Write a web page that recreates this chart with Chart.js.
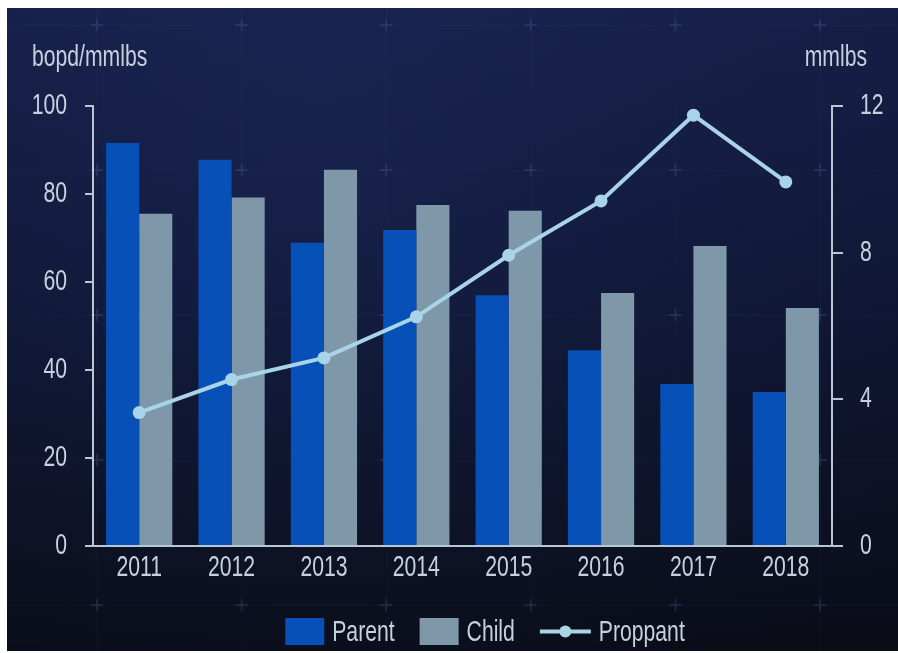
<!DOCTYPE html>
<html><head><meta charset="utf-8">
<script src="https://cdn.jsdelivr.net/npm/chart.js@4.4.1/dist/chart.umd.min.js"></script>
<style>
html,body{margin:0;padding:0;background:#fff;overflow:hidden;}
#wrap{position:absolute;left:7px;top:8px;width:891px;height:643px;}
</style></head><body>
<div id="wrap"><canvas id="c" width="891" height="643"></canvas></div>
<script>
const categories = ['2011','2012','2013','2014','2015','2016','2017','2018'];
const parentValues = [91.6, 87.8, 68.9, 71.8, 57.0, 44.5, 36.8, 35.0];
const childValues = [75.5, 79.2, 85.5, 77.5, 76.2, 57.5, 68.2, 54.1];
const proppantValues = [3.64, 4.54, 5.13, 6.25, 7.93, 9.41, 11.75, 9.93];
const leftTicks = [0, 20, 40, 60, 80, 100];
const rightTicks = [0, 4, 8, 12];
const seriesNames = ['Parent', 'Child', 'Proppant'];
const leftUnit = 'bopd/mmlbs';
const rightUnit = 'mmlbs';

const FAMILY = "'Liberation Sans', Arial, sans-serif";
const FSIZE = 29;
const SX = 0.73; // horizontal condensing of all text, like the narrow face in the original
const textColor = '#c6d1de';
const axisColor = '#b9c6d3';
const parentColor = '#0650b8';
const childColor = '#7e98a9';
const lineColor = '#a9d3e7';

const canvas = document.getElementById('c');
const ctx2d = canvas.getContext('2d');
const nativeFill = ctx2d.fillText.bind(ctx2d);
ctx2d.fillText = function (t, x, y, mw) {
  ctx2d.save();
  ctx2d.translate(x, y);
  ctx2d.scale(SX, 1);
  if (mw !== undefined && mw !== null) nativeFill(t, 0, 0, mw / SX); else nativeFill(t, 0, 0);
  ctx2d.restore();
};

const bgPlugin = {
  id: 'bg',
  beforeDraw(chart) {
    const {ctx, width, height} = chart;
    ctx.save();
    const g = ctx.createLinearGradient(0, 0, 0, height);
    g.addColorStop(0, '#182350');
    g.addColorStop(0.45, '#121a3c');
    g.addColorStop(1, '#0b0e1a');
    ctx.fillStyle = g;
    ctx.fillRect(0, 0, width, height);
    const rg = ctx.createRadialGradient(width*0.35, height*0.25, 50, width*0.35, height*0.25, width*0.8);
    rg.addColorStop(0, 'rgba(30,45,95,0.2)');
    rg.addColorStop(1, 'rgba(0,0,0,0.15)');
    ctx.fillStyle = rg;
    ctx.fillRect(0, 0, width, height);
    ctx.strokeStyle = 'rgba(120,135,200,0.05)';
    ctx.lineWidth = 1;
    for (let x = 90; x < width; x += 144.6) {
      ctx.beginPath(); ctx.moveTo(x + 0.5, 0); ctx.lineTo(x + 0.5, height); ctx.stroke();
    }
    for (let y = 17; y < height; y += 145) {
      ctx.beginPath(); ctx.moveTo(0, y + 0.5); ctx.lineTo(width, y + 0.5); ctx.stroke();
    }
    ctx.strokeStyle = 'rgba(130,145,215,0.16)';
    ctx.lineWidth = 2;
    for (let x = 90; x < width; x += 144.6) {
      for (let y = 17; y < height; y += 145) {
        ctx.beginPath();
        ctx.moveTo(x - 6, y); ctx.lineTo(x + 6, y);
        ctx.moveTo(x, y - 6); ctx.lineTo(x, y + 6);
        ctx.stroke();
      }
    }
    ctx.restore();
  }
};

const textPlugin = {
  id: 'texts',
  afterDraw(chart) {
    const ctx = chart.ctx;
    ctx.save();
    ctx.font = FSIZE + 'px ' + FAMILY;
    ctx.fillStyle = textColor;
    ctx.textBaseline = 'middle';
    ctx.textAlign = 'left';
    ctx.fillText(leftUnit, 25, 50);
    ctx.textAlign = 'right';
    ctx.fillText(rightUnit, 860, 50);

    ctx.textAlign = 'left';
    const items = chart.data.datasets.map(d => ({
      label: d.label, type: d.type || 'bar',
      color: d.type === 'line' ? d.borderColor : d.backgroundColor
    }));
    const symW = it => it.type === 'line' ? 51 : 39;
    const tw = s => ctx.measureText(s).width * SX;
    const gapText = 8, gapItem = 25;
    let total = 0;
    items.forEach((it, i) => {
      total += symW(it) + gapText + tw(it.label) + (i < items.length - 1 ? gapItem : 0);
    });
    let x = 478 - total / 2;
    const cy = 623.5;
    items.forEach(it => {
      if (it.type === 'line') {
        ctx.strokeStyle = it.color; ctx.lineWidth = 4;
        ctx.beginPath(); ctx.moveTo(x, cy); ctx.lineTo(x + 51, cy); ctx.stroke();
        ctx.fillStyle = it.color;
        ctx.beginPath(); ctx.arc(x + 25.5, cy, 6, 0, Math.PI * 2); ctx.fill();
      } else {
        ctx.fillStyle = it.color;
        ctx.fillRect(x, cy - 13.5, 39, 27);
      }
      x += symW(it) + gapText;
      ctx.fillStyle = textColor;
      ctx.fillText(it.label, x, cy + 1);
      x += tw(it.label) + gapItem;
    });
    ctx.restore();
  }
};

const font = {family: FAMILY, size: FSIZE};

new Chart(canvas, {
  data: {
    labels: categories,
    datasets: [
      {type: 'bar', label: seriesNames[0], data: parentValues, yAxisID: 'y', order: 1,
       backgroundColor: parentColor, categoryPercentage: 0.717, barPercentage: 1.0},
      {type: 'bar', label: seriesNames[1], data: childValues, yAxisID: 'y', order: 1,
       backgroundColor: childColor, categoryPercentage: 0.717, barPercentage: 1.0},
      {type: 'line', label: seriesNames[2], data: proppantValues, yAxisID: 'y1', order: 0,
       borderColor: lineColor, backgroundColor: lineColor, borderWidth: 4,
       pointRadius: 6.5, pointBackgroundColor: lineColor, pointBorderWidth: 0, tension: 0}
    ]
  },
  options: {
    responsive: false,
    animation: false,
    layout: {padding: {top: 98, left: 0, right: 0, bottom: 0}},
    plugins: {legend: {display: false}, tooltip: {enabled: false}, title: {display: false}},
    scales: {
      x: {
        afterFit: s => { s.height = 105; },
        grid: {display: false, drawTicks: false},
        border: {display: true, color: axisColor, width: 2},
        ticks: {color: textColor, font, padding: 5, maxRotation: 0, autoSkip: false}
      },
      y: {
        position: 'left', min: 0, max: 100,
        afterBuildTicks: s => { s.ticks = leftTicks.map(v => ({value: v})); },
        afterFit: s => { s.width = 86; },
        grid: {drawOnChartArea: false, tickLength: 8, color: axisColor, lineWidth: 2},
        border: {display: true, color: axisColor, width: 2},
        ticks: {color: textColor, font, padding: 18}
      },
      y1: {
        position: 'right', min: 0, max: 12,
        afterBuildTicks: s => { s.ticks = rightTicks.map(v => ({value: v})); },
        afterFit: s => { s.width = 66; },
        grid: {drawOnChartArea: false, tickLength: 11, color: axisColor, lineWidth: 2},
        border: {display: true, color: axisColor, width: 2},
        ticks: {color: textColor, font, padding: 17}
      }
    }
  },
  plugins: [bgPlugin, textPlugin]
});
</script>
</body></html>
